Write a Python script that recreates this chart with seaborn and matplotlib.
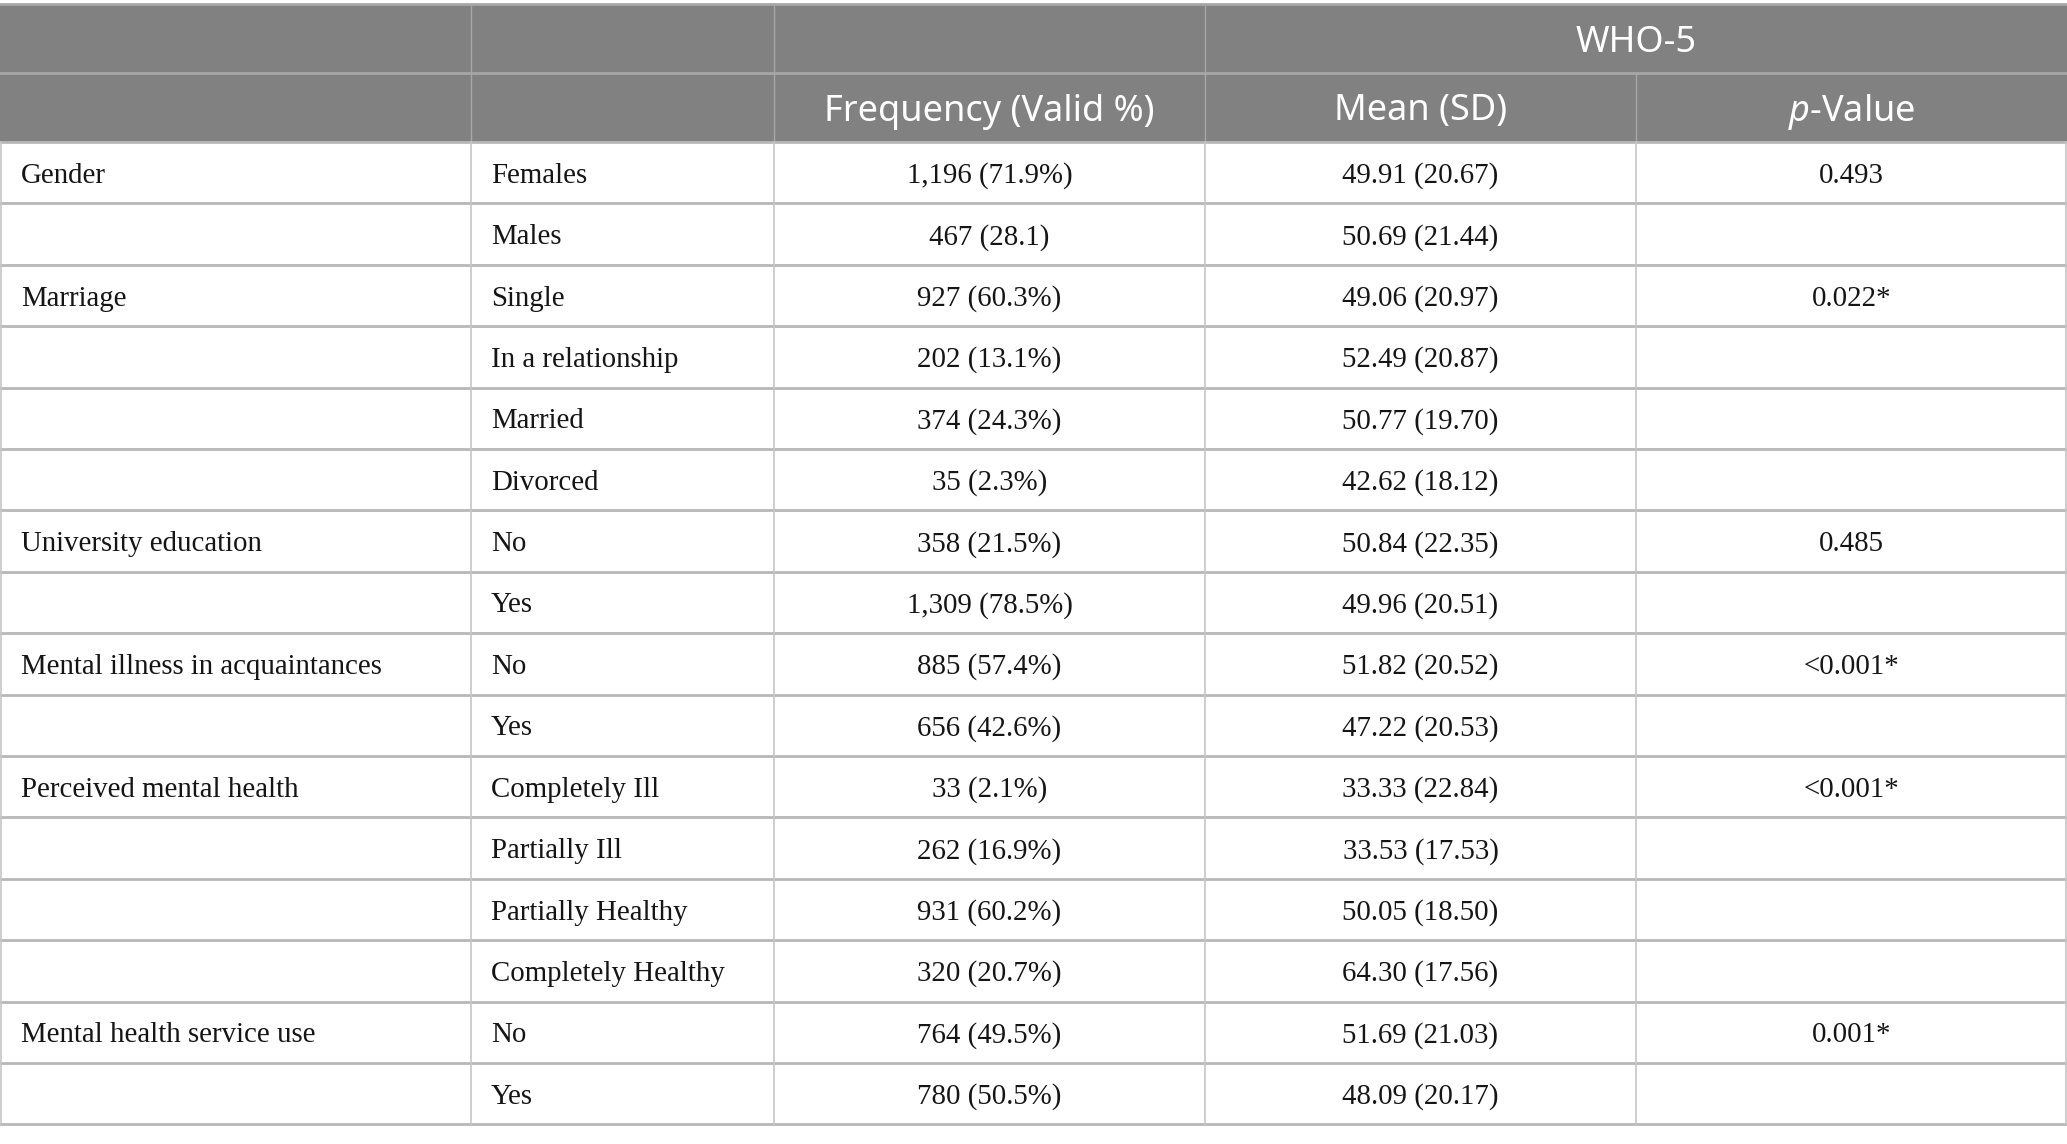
import matplotlib.pyplot as plt
import seaborn as sns
from matplotlib.patches import Rectangle

# --- table content ---
variables = ["Gender", "", "Marriage", "", "", "", "University education", "",
             "Mental illness in acquaintances", "", "Perceived mental health", "", "", "",
             "Mental health service use", ""]
levels = ["Females", "Males", "Single", "In a relationship", "Married", "Divorced",
          "No", "Yes", "No", "Yes", "Completely Ill", "Partially Ill",
          "Partially Healthy", "Completely Healthy", "No", "Yes"]
frequency = ["1,196 (71.9%)", "467 (28.1)", "927 (60.3%)", "202 (13.1%)", "374 (24.3%)",
             "35 (2.3%)", "358 (21.5%)", "1,309 (78.5%)", "885 (57.4%)", "656 (42.6%)",
             "33 (2.1%)", "262 (16.9%)", "931 (60.2%)", "320 (20.7%)", "764 (49.5%)",
             "780 (50.5%)"]
means = ["49.91 (20.67)", "50.69 (21.44)", "49.06 (20.97)", "52.49 (20.87)", "50.77 (19.70)",
         "42.62 (18.12)", "50.84 (22.35)", "49.96 (20.51)", "51.82 (20.52)", "47.22 (20.53)",
         "33.33 (22.84)", "33.53 (17.53)", "50.05 (18.50)", "64.30 (17.56)", "51.69 (21.03)",
         "48.09 (20.17)"]
pvalues = ["0.493", "", "0.022*", "", "", "", "0.485", "", "<0.001*", "", "<0.001*", "",
           "", "", "0.001*", ""]
header_top = "WHO-5"
header_cols = ["Frequency (Valid %)", "Mean (SD)", r"$\mathit{p}$-Value"]

# --- layout (pixels) ---
W, H = 2067, 1144
col_edges = [0, 471, 774, 1205, 1636, 2067]
top = 4
head_h = 69
row_h = 61.4
HEAD_BG = "#808180"
HEAD_LINE = "#a6a7a6"
V_LINE = "#c6c6c6"
H_LINE = "#b8b8b8"

sns.set_theme(style="white")
plt.rcParams["font.family"] = ["Liberation Serif", "DejaVu Serif"]
plt.rcParams["mathtext.fontset"] = "custom"
plt.rcParams["mathtext.it"] = "Noto Sans:italic"
plt.rcParams["mathtext.rm"] = "Noto Sans"

fig = plt.figure(figsize=(W / 100, H / 100), dpi=100)
ax = fig.add_axes([0, 0, 1, 1])
ax.set_xlim(0, W)
ax.set_ylim(H, 0)
ax.axis("off")

head_bottom = top + 2 * head_h
ax.add_patch(Rectangle((0, top), W, 2 * head_h, facecolor=HEAD_BG, edgecolor="none"))

# header lines
ax.plot([0, W], [top, top], color=HEAD_LINE, lw=2)
ax.plot([0, W], [top + head_h, top + head_h], color=HEAD_LINE, lw=2)
for x in col_edges[1:4]:
    ax.plot([x, x], [top, head_bottom], color=HEAD_LINE, lw=1)
ax.plot([col_edges[4]] * 2, [top + head_h, head_bottom], color=HEAD_LINE, lw=1)

hfont = dict(family="Noto Sans", color="white", fontsize=26, ha="center", va="center")
ax.text((col_edges[3] + col_edges[5]) / 2, top + head_h / 2 + 4, header_top, **hfont)
for i, lab in enumerate(header_cols):
    xc = (col_edges[i + 2] + col_edges[i + 3]) / 2
    ax.text(xc, top + head_h * 1.5 + 4, lab, **hfont)

# body
n = len(levels)
bottom = head_bottom + n * row_h
for i in range(n + 1):
    y = head_bottom + i * row_h
    ax.plot([0, W], [y, y], color=H_LINE, lw=2)
for x in col_edges:
    xx = min(max(x, 0.7), W - 0.7)
    ax.plot([xx, xx], [head_bottom, bottom], color=V_LINE, lw=1.2)

fs = 20.8
tc = "#151515"
for i in range(n):
    yc = head_bottom + (i + 0.5) * row_h + 3
    ax.text(col_edges[0] + 21, yc, variables[i], fontsize=fs, ha="left", va="center", color=tc)
    ax.text(col_edges[1] + 20, yc, levels[i], fontsize=fs, ha="left", va="center", color=tc)
    ax.text((col_edges[2] + col_edges[3]) / 2, yc, frequency[i], fontsize=fs, ha="center", va="center", color=tc)
    ax.text((col_edges[3] + col_edges[4]) / 2, yc, means[i], fontsize=fs, ha="center", va="center", color=tc)
    ax.text((col_edges[4] + col_edges[5]) / 2, yc, pvalues[i], fontsize=fs, ha="center", va="center", color=tc)

fig.savefig("out.png", dpi=100, facecolor="white")
